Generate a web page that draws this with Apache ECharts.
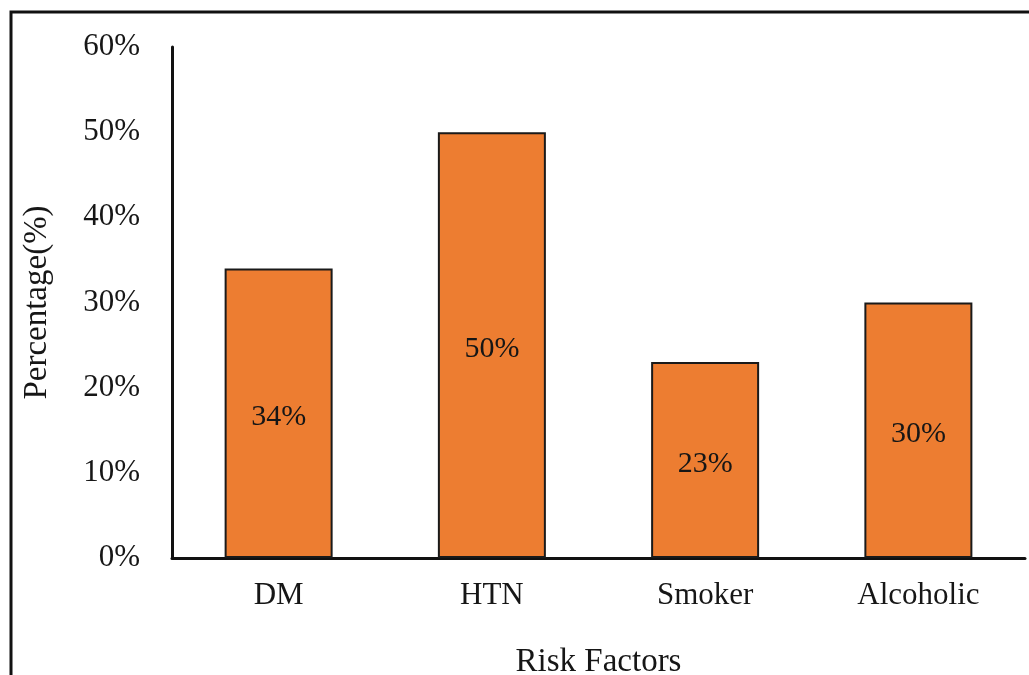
<!DOCTYPE html>
<html>
<head>
<meta charset="utf-8">
<title>Risk Factors</title>
<script src="https://cdn.jsdelivr.net/npm/echarts@6/dist/echarts.min.js"></script>
<style>
  html, body { margin: 0; padding: 0; background: #fff; }
  #chart { width: 1029px; height: 675px; }
</style>
</head>
<body>
<div id="chart"></div>
<script>
// Risk factor prevalence (percent of patients)
const categories = ['DM', 'HTN', 'Smoker', 'Alcoholic'];
const percentages = [34, 50, 23, 30];
const yTicks = { min: 0, max: 60, step: 10 };

const FONT = '"Liberation Serif", "Times New Roman", serif';
const INK = '#161616';

const chart = echarts.init(document.getElementById('chart'), null, { renderer: 'canvas' });

chart.setOption({
  backgroundColor: '#ffffff',
  animation: false,
  graphic: [{
    // outer frame, running off the right and bottom edges
    type: 'rect',
    shape: { x: 11, y: 12, width: 1040, height: 700 },
    style: { fill: 'none', stroke: '#111', lineWidth: 3 },
    silent: true,
    z: 100
  }],
  grid: { left: 172, right: 4, top: 47, bottom: 117, containLabel: false, outerBoundsMode: 'none' },
  xAxis: {
    type: 'category',
    data: categories,
    name: 'Risk Factors',
    nameLocation: 'middle',
    nameGap: 88,
    nameTextStyle: { fontFamily: FONT, fontSize: 33, color: INK },
    axisLine: { lineStyle: { color: '#111', width: 3 } },
    axisTick: { show: false },
    axisLabel: { fontFamily: FONT, fontSize: 31, color: INK, margin: 22 }
  },
  yAxis: {
    type: 'value',
    min: yTicks.min,
    max: yTicks.max,
    interval: yTicks.step,
    name: 'Percentage(%)',
    nameLocation: 'middle',
    nameGap: 118,
    nameRotate: 90,
    nameTextStyle: { fontFamily: FONT, fontSize: 33, color: INK },
    axisLine: { show: true, lineStyle: { color: '#111', width: 3 } },
    axisTick: { show: false },
    splitLine: { show: false },
    axisLabel: { fontFamily: FONT, fontSize: 31, color: INK, margin: 32, formatter: '{value}%' }
  },
  series: [{
    type: 'bar',
    data: percentages,
    barWidth: 108,
    itemStyle: { color: '#ED7D31', borderColor: '#1a1a1a', borderWidth: 2 },
    label: {
      show: true,
      position: 'inside',
      formatter: '{c}%',
      fontFamily: FONT,
      fontSize: 30,
      color: INK,
      offset: [0, 4]
    }
  }]
});
</script>
</body>
</html>
